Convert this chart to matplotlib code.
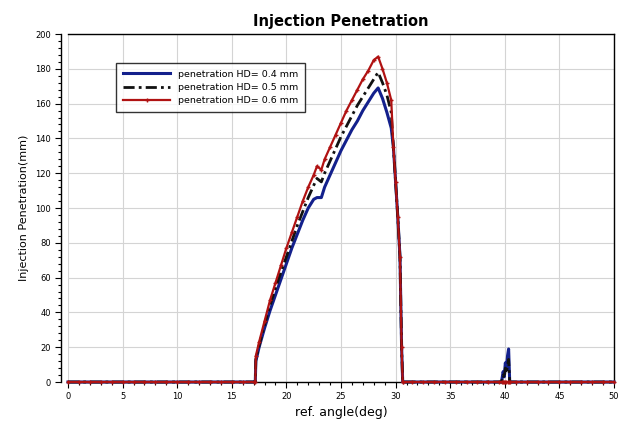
import matplotlib.pyplot as plt
import numpy as np
from matplotlib.ticker import MultipleLocator

# ---- data ----
base_left = [0, 1, 2, 3, 4, 5, 6, 7, 8, 9, 10, 11, 12, 13, 14, 15, 16, 17, 17.15]
base_right = [30.7, 31.5, 32.5, 33.5, 34.5, 35.5, 36.5, 37.5, 38.5, 39.5]
base_end = [41, 42, 43, 44, 45, 46, 47, 48, 49, 50]

rise_x = [17.2, 17.5, 18, 18.5, 19, 19.5, 20, 20.5, 21, 21.5, 22, 22.5, 22.8, 23.2,
          23.5, 24, 24.5, 25, 25.5, 26, 26.5, 27, 27.5, 28, 28.4]
fall_x = [28.8, 29.2, 29.6, 29.8, 30.0, 30.2, 30.4, 30.55, 30.65]

hd04_rise = [12, 20, 31, 41, 50, 59, 68, 77, 85, 93, 100, 105, 106, 106,
             112, 119, 126, 133, 139, 145, 150, 156, 161, 166, 169]
hd05_rise = [13, 21, 33, 44, 54, 63, 72, 81, 90, 98, 106, 113, 117, 115,
             120, 127, 134, 141, 147, 153, 159, 164, 169, 174, 178]
hd06_rise = [15, 23, 35, 47, 57, 67, 77, 86, 95, 104, 112, 119, 124, 122,
             128, 135, 142, 149, 156, 162, 168, 174, 179, 185, 187]

hd04_fall = [163, 155, 146, 135, 115, 95, 72, 20, 0]
hd05_fall = [172, 165, 155, 135, 115, 95, 72, 20, 0]
hd06_fall = [180, 172, 162, 135, 115, 95, 72, 20, 0]

spike_x = [39.7, 39.85, 39.95, 40.05, 40.15, 40.25, 40.35, 40.45]
hd04_spike = [0, 6, 3, 11, 8, 15, 19, 0]
hd05_spike = [0, 4, 2, 8, 5, 10, 13, 0]


def build(rise, fall, spike):
    x = base_left + rise_x + fall_x + base_right + spike_x + base_end
    y = [0] * len(base_left) + rise + fall + [0] * len(base_right) + spike + [0] * len(base_end)
    return x, y


x4, y4 = build(hd04_rise, hd04_fall, hd04_spike)
x5, y5 = build(hd05_rise, hd05_fall, hd05_spike)
x6, y6 = build(hd06_rise, hd06_fall, [0] * len(spike_x))

fig = plt.figure(figsize=(6.2, 4.23), dpi=100)
ax = fig.add_axes([0.1097, 0.0969, 0.8806, 0.8227])

ax.plot(x4, y4, color='#13208c', lw=2.2, label='penetration HD= 0.4 mm', clip_on=False, zorder=3)
ax.plot(x5, y5, color='#111111', lw=2.0, ls=(0, (4, 1.5, 1, 1.5)), label='penetration HD= 0.5 mm',
        clip_on=False, zorder=4)
ax.plot(x6, y6, color='#b01212', lw=1.6, marker='+', ms=3.5, mew=1.0,
        label='penetration HD= 0.6 mm', clip_on=False, zorder=5)

ax.set_xlim(0, 50)
ax.set_ylim(0, 200)
ax.xaxis.set_major_locator(MultipleLocator(5))
ax.xaxis.set_minor_locator(MultipleLocator(1))
ax.yaxis.set_major_locator(MultipleLocator(20))
ax.yaxis.set_minor_locator(MultipleLocator(4))
ax.tick_params(which='both', direction='out', labelsize=6, width=0.8)
ax.tick_params(which='major', length=4)
ax.tick_params(which='minor', length=2)
ax.spines['left'].set_position(('outward', 5))
for s in ax.spines.values():
    s.set_linewidth(1.0)
ax.grid(True, color='#d4d4d4', lw=0.8)
ax.set_axisbelow(True)

ax.set_title('Injection Penetration', fontsize=10.5, fontweight='bold', pad=6)
ax.set_xlabel('ref. angle(deg)', fontsize=9, labelpad=3)
ax.set_ylabel('Injection Penetration(mm)', fontsize=8, labelpad=4)

leg = ax.legend(loc='upper left', bbox_to_anchor=(0.08, 0.93), fontsize=6.8, frameon=True,
                fancybox=False, edgecolor='black', handlelength=5, borderpad=0.7,
                labelspacing=0.45)
leg.get_frame().set_linewidth(1.0)

fig.savefig('out.png', dpi=100)
